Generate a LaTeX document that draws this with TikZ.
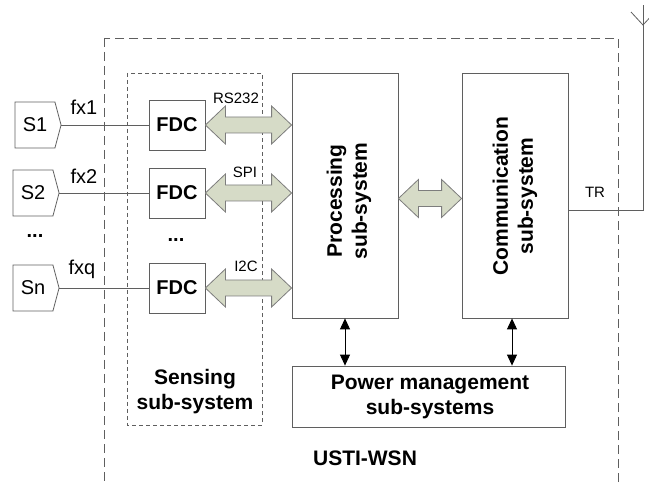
\documentclass[tikz,border=0pt]{standalone}
\usepackage{fontspec}
\setmainfont{Liberation Sans}
\usetikzlibrary{calc,arrows.meta,shapes.symbols}
\definecolor{boxgray}{RGB}{95,95,95}
\definecolor{fatfill}{RGB}{214,219,199}
\definecolor{fatedge}{RGB}{125,125,125}
\def\fatarrow(#1)(#2){\draw[fatarrow] (#1) -- ($(#1)+(20,-19)$) -- ($(#1)+(20,-8)$) -- ($(#2)+(-20,-8)$) -- ($(#2)+(-20,-19)$) -- (#2) -- ($(#2)+(-20,19)$) -- ($(#2)+(-20,8)$) -- ($(#1)+(20,8)$) -- ($(#1)+(20,19)$) -- cycle;}

\begin{document}
\begin{tikzpicture}[x=1pt, y=-1pt,
		blk/.style={draw=boxgray, line width=0.8pt, inner sep=0pt},
		sensor/.style={signal, signal to=east, signal pointer angle=150, draw=boxgray, line width=0.8pt, minimum width=46, minimum height=46, inner sep=0pt, font=\fontsize{20}{24}\selectfont},
		wire/.style={draw=boxgray, line width=0.8pt},
		fatarrow/.style={draw=fatedge, fill=fatfill, line width=0.8pt, line join=miter},
		pwrarrow/.style={line width=0.9pt, {Triangle[length=11pt,width=10pt]}-{Triangle[length=11pt,width=10pt]}},
		bigtxt/.style={font=\bfseries\fontsize{21}{25}\selectfont, align=center},
		lbl/.style={font=\fontsize{20}{24}\selectfont, anchor=base west},
		bus/.style={font=\fontsize{15}{18}\selectfont, anchor=base}]
			%%%%% START %%%%%
			\clip (0,0) rectangle (649,484);
			
			\draw[boxgray, line width=0.8pt, dash pattern=on 9pt off 5pt] (104,38) rectangle (618,500);
			\draw[boxgray, line width=0.7pt, dash pattern=on 4pt off 3pt] (127,73) rectangle (262,425);
			
			\node[sensor] (s1) at (35,125) {S1};
			\node[sensor] (s2) at (33,193) {S2};
			\node[sensor] (sn) at (33,288) {Sn};
			\node[font=\bfseries\fontsize{20}{24}\selectfont, anchor=base] (dotsl) at (35,238) {...};
			
			\node[blk, minimum width=56, minimum height=50, font=\bfseries\fontsize{20}{24}\selectfont] (fdc1) at (177,125) {FDC};
			\node[blk, minimum width=56, minimum height=50, font=\bfseries\fontsize{20}{24}\selectfont] (fdc2) at (177,193) {FDC};
			\node[blk, minimum width=56, minimum height=50, font=\bfseries\fontsize{20}{24}\selectfont] (fdc3) at (177,288) {FDC};
			\node[font=\bfseries\fontsize{20}{24}\selectfont, anchor=base] (dotsr) at (176,242) {...};
			
			\draw[wire] (s1.east) -- (fdc1.west);
			\draw[wire] (s2.east) -- (fdc2.west);
			\draw[wire] (sn.east) -- (fdc3.west);
			\node[lbl] (fx1) at (67,115) {fx1};
			\node[lbl] (fx2) at (67,184) {fx2};
			\node[lbl] (fxq) at (65,275) {fxq};
			
			\node[blk, minimum width=106, minimum height=245] (proc) at (345,195.5) {};
			\node[blk, minimum width=106, minimum height=245] (comm) at (515,195.5) {};
			\node[blk, minimum width=273, minimum height=61] (power) at (428.5,396.5) {};
			\node[bigtxt, rotate=90] (proctxt) at (349,201) {Processing\\sub-system};
			\node[bigtxt, rotate=90] (commtxt) at (515,196) {Communication\\sub-system};
			\node[bigtxt] (powertxt) at (430,397) {Power management\\sub-systems};
			\node[bigtxt] (sensetxt) at (195,392) {Sensing\\sub-system};
			\node[bigtxt, anchor=base] (usti) at (365,465) {USTI-WSN};
			
			\coordinate (b1) at (fdc1.east -| proc.west);
			\coordinate (b2) at (fdc2.east -| proc.west);
			\coordinate (b3) at (fdc3.east -| proc.west);
			\fatarrow(fdc1.east)(b1)
			\fatarrow(fdc2.east)(b2)
			\fatarrow(fdc3.east)(b3)
			\node[bus] (rs) at (236,104) {RS232};
			\node[bus] (spi) at (245,178) {SPI};
			\node[bus] (iic) at (246,272) {I2C};
			
			\coordinate (m1) at ($(proc.east)+(0,3)$);
			\coordinate (m2) at ($(comm.west)+(0,3)$);
			\fatarrow(m1)(m2)
			
			\draw[pwrarrow] (proc.south) -- (proc.south |- power.north);
			\draw[pwrarrow] ($(comm.south)+(-3,0)$) -- ($(comm.south |- power.north)+(-3,0)$);
			
			\coordinate (ant) at (643,5);
			\draw[wire] ($(comm.east)+(0,14.5)$) -| (ant);
			\node[bus] (tr) at (595,198) {TR};
			\draw[wire] (631,12) -- (643,25) -- (655,12);
			%%%%% END %%%%%
\end{tikzpicture}
\end{document}
